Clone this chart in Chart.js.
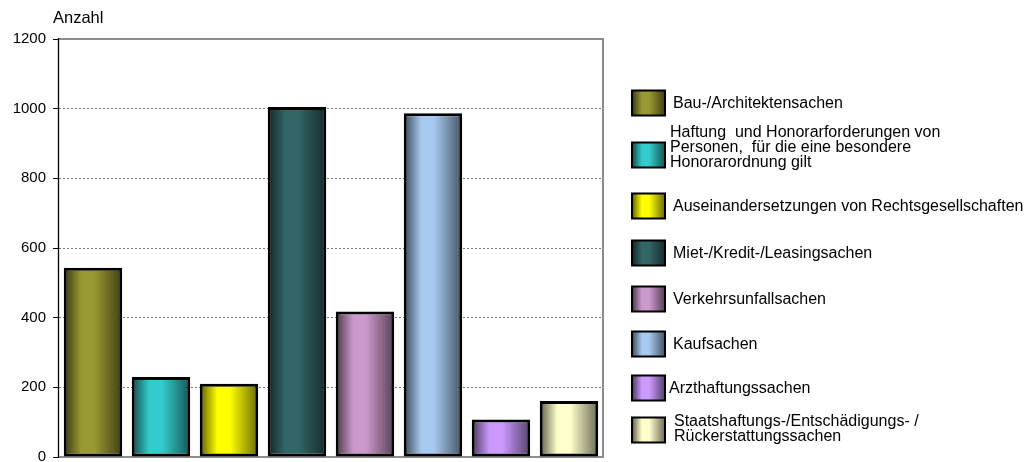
<!DOCTYPE html>
<html><head><meta charset="utf-8">
<script src="https://cdn.jsdelivr.net/npm/chart.js@4.4.0/dist/chart.umd.min.js"></script>
<style>html,body{margin:0;padding:0;background:#fff;overflow:hidden}#wrap{width:1035px;height:462px;position:relative}</style>
</head><body><div id="wrap"><canvas id="c"></canvas></div>
<script>
// ---- data ----
const categories = [
  'Bau-/Architektensachen',
  'Haftung  und Honorarforderungen von Personen,  für die eine besondere Honorarordnung gilt',
  'Auseinandersetzungen von Rechtsgesellschaften',
  'Miet-/Kredit-/Leasingsachen',
  'Verkehrsunfallsachen',
  'Kaufsachen',
  'Arzthaftungssachen',
  'Staatshaftungs-/Entschädigungs- / Rückerstattungssachen'
];
const legendLines = [
  ['Bau-/Architektensachen'],
  ['Haftung  und Honorarforderungen von', 'Personen,  für die eine besondere', 'Honorarordnung gilt'],
  ['Auseinandersetzungen von Rechtsgesellschaften'],
  ['Miet-/Kredit-/Leasingsachen'],
  ['Verkehrsunfallsachen'],
  ['Kaufsachen'],
  ['Arzthaftungssachen'],
  ['Staatshaftungs-/Entschädigungs- /', 'Rückerstattungssachen']
];
const values = [543, 230, 210, 1005, 418, 987, 108, 161];
const yTicks = [0, 200, 400, 600, 800, 1000, 1200];
const yTitle = 'Anzahl';

// ---- styles ----
const colors = ['#999933', '#33CCCC', '#FFFF00', '#336666', '#CC99CC', '#A6C9EF', '#CC99FF', '#FFFFCC'];
const FONT = '"Liberation Sans", Arial, sans-serif';
const BAR_PCT = 0.86;

function shade(hex, f) {
  const n = parseInt(hex.slice(1), 16);
  const r = Math.round(((n >> 16) & 255) * f), g = Math.round(((n >> 8) & 255) * f), b = Math.round((n & 255) * f);
  return `rgb(${r},${g},${b})`;
}
function grad(ctx, x0, x1, hex) {
  const g = ctx.createLinearGradient(x0, 0, x1, 0);
  g.addColorStop(0, shade(hex, 0.36));
  g.addColorStop(0.3, hex);
  g.addColorStop(0.52, hex);
  g.addColorStop(1, shade(hex, 0.42));
  return g;
}

const framePlugin = {
  id: 'frame',
  beforeDatasetsDraw(chart) {
    const { ctx, chartArea: a } = chart;
    ctx.save();
    ctx.strokeStyle = '#8c8c8c';
    ctx.lineWidth = 2;
    ctx.beginPath();
    ctx.moveTo(a.left, a.top);
    ctx.lineTo(a.right, a.top);
    ctx.lineTo(a.right, a.bottom);
    ctx.lineTo(a.left, a.bottom);
    ctx.stroke();
    ctx.strokeStyle = '#000';
    ctx.lineWidth = 1.3;
    ctx.beginPath();
    ctx.moveTo(a.left - 0.5, a.top - 1);
    ctx.lineTo(a.left - 0.5, a.bottom + 1);
    ctx.stroke();
    ctx.restore();
  },
  afterDraw(chart) {
    const { ctx, chartArea: a } = chart;
    ctx.save();
    ctx.fillStyle = '#000';
    ctx.font = '16.5px ' + FONT;
    ctx.textBaseline = 'alphabetic';
    ctx.textAlign = 'left';
    ctx.fillText(yTitle, a.left - 6, 23);
    const centers = [103, 155, 206, 253, 299, 344, 388, 430];
    const mx = 632, mw = 33, mh = 25;
    ctx.font = '16px ' + FONT;
    ctx.textBaseline = 'middle';
    legendLines.forEach((lines, i) => {
      const cy = centers[i];
      ctx.fillStyle = grad(ctx, mx, mx + mw, colors[i]);
      ctx.fillRect(mx, cy - mh / 2, mw, mh);
      ctx.strokeStyle = '#000';
      ctx.lineWidth = 2;
      ctx.strokeRect(mx, cy - mh / 2, mw, mh);
      ctx.fillStyle = '#000';
      const lh = 15;
      const tx = lines.length > 1 ? (i === 1 ? 670 : 674) : (i === 6 ? 669 : 673);
      const off = i === 1 ? -7 : (i === 7 ? -1 : 1);
      const start = cy + off - (lines.length - 1) * lh / 2;
      lines.forEach((t, j) => ctx.fillText(t, tx, start + j * lh));
    });
    ctx.restore();
  }
};

new Chart(document.getElementById('c'), {
  type: 'bar',
  data: {
    labels: categories,
    datasets: [{
      data: values,
      backgroundColor: (c) => {
        const ch = c.chart, a = ch.chartArea;
        if (!a || c.type !== 'data' || !ch.scales.x) return colors[c.dataIndex];
        const cx = ch.scales.x.getPixelForValue(c.dataIndex);
        const w = (a.right - a.left) / values.length * BAR_PCT;
        return grad(ch.ctx, cx - w / 2, cx + w / 2, colors[c.dataIndex]);
      },
      borderColor: '#000',
      borderWidth: 3,
      borderSkipped: false,
      barPercentage: BAR_PCT,
      categoryPercentage: 1
    }]
  },
  options: {
    responsive: true,
    maintainAspectRatio: false,
    animation: false,
    layout: { padding: { left: 0, top: 39, right: 432, bottom: 5 } },
    plugins: { legend: { display: false }, tooltip: { enabled: false }, title: { display: false } },
    scales: {
      x: { display: false, offset: true },
      y: {
        min: 0, max: 1200,
        afterFit: (s) => { s.width = 59; s.paddingTop = 0; s.paddingBottom = 0; },
        afterBuildTicks: (s) => { s.ticks = yTicks.map(v => ({ value: v })); },
        ticks: { color: '#000', font: { family: FONT, size: 15 }, padding: 7, callback: (v) => String(v) },
        grid: {
          color: (c) => (c.tick && (c.tick.value === 1200 || c.tick.value === 0)) ? 'rgba(0,0,0,0)' : '#7a7a7a',
          lineWidth: 1,
          tickLength: 6,
          tickColor: '#000',
          tickBorderDash: [1, 0]
        },
        border: { display: false, dash: [2, 2] }
      }
    }
  },
  plugins: [framePlugin]
});
</script>
</body></html>
